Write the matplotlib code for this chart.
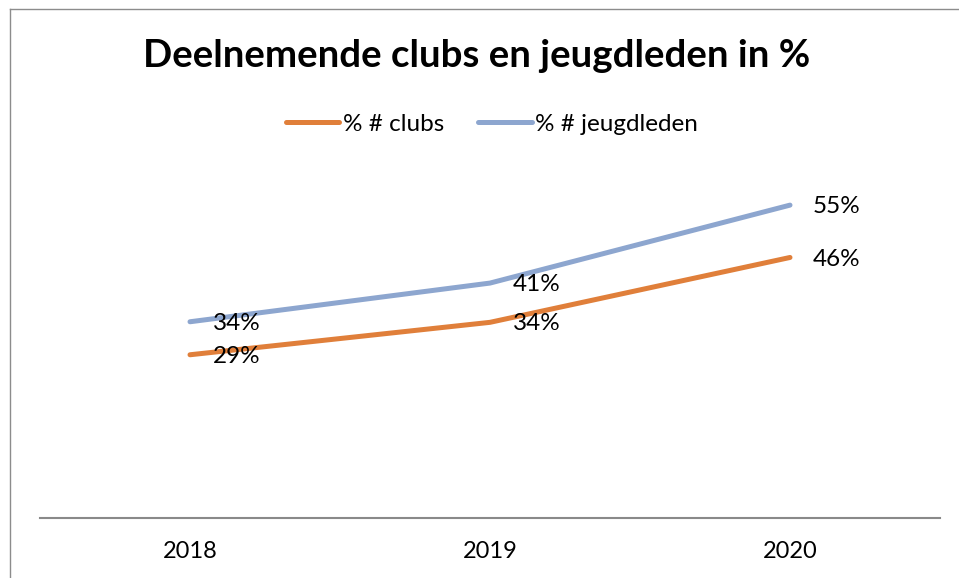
import matplotlib
matplotlib.use("Agg")
import matplotlib.pyplot as plt
from matplotlib.lines import Line2D

years = ["2018", "2019", "2020"]
clubs = [0.286, 0.343, 0.457]
jeugdleden = [0.344, 0.412, 0.549]
series_names = ["% # clubs", "% # jeugdleden"]
colors = ["#E07F3A", "#8DA6CF"]
title = "Deelnemende clubs en jeugdleden in %"

W, H = 959, 578
plt.rcParams['font.family'] = ['Lato', 'DejaVu Sans']
fig = plt.figure(figsize=(W / 100, H / 100), dpi=100)
fig.patch.set_facecolor("white")

# outer chart border (left and top visible)
fig.add_artist(Line2D([9.5 / W, 9.5 / W], [0, 1 - 8.5 / H], transform=fig.transFigure,
                      color="#8c8c8c", lw=1.0))
fig.add_artist(Line2D([9.5 / W, 1], [1 - 8.5 / H, 1 - 8.5 / H], transform=fig.transFigure,
                      color="#8c8c8c", lw=1.0))

ymax = 0.6
scale = 5.69  # px per percent
left, right = 40 / W, 940 / W
bottom = (H - 517.5) / H
top = (H - (517.5 - ymax * 100 * scale)) / H
ax = fig.add_axes([left, bottom, right - left, top - bottom])
ax.set_xlim(-0.5, len(years) - 0.5)
ax.set_ylim(0, ymax)

x = list(range(len(years)))
lines = []
for vals, name, c in zip([clubs, jeugdleden], series_names, colors):
    ln, = ax.plot(x, vals, color=c, lw=3.6, solid_capstyle="round", solid_joinstyle="round", label=name)
    lines.append(ln)
    for xi, v in zip(x, vals):
        ax.annotate(f"{v * 100:.0f}%", (xi, v), xytext=(16.5, -1.2), textcoords="offset points",
                    ha="left", va="center", fontsize=17.5, color="black")

for s in ["top", "right", "left"]:
    ax.spines[s].set_visible(False)
ax.spines["bottom"].set_color("#898989")
ax.spines["bottom"].set_linewidth(1.5)
ax.set_yticks([])
ax.set_xticks(x)
ax.set_xticklabels(years, fontsize=17)
ax.tick_params(axis="x", length=0, pad=17)

fig.text(477 / W, 1 - 56 / H, title, ha="center", va="center", fontsize=27.6, fontweight="bold")

fig.legend(handles=lines, labels=series_names, loc="center", bbox_to_anchor=(492 / W, 1 - 124 / H),
           ncol=2, frameon=False, fontsize=17.5, handlelength=2.2, handletextpad=0.15,
           columnspacing=1.4)

fig.savefig("out.png", dpi=100)
